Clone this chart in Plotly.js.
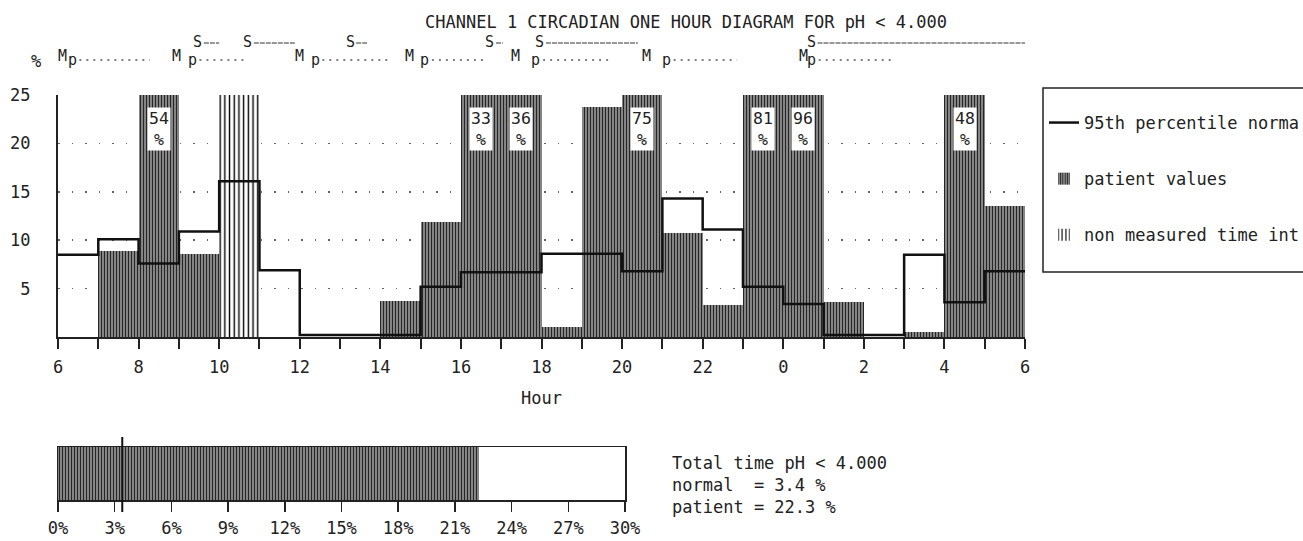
<!DOCTYPE html>
<html>
<head>
<meta charset="utf-8">
<script src="https://cdn.plot.ly/plotly-3.0.1.min.js"></script>
<style>
html,body{margin:0;padding:0;background:#fff;overflow:hidden}
#chart{width:1303px;height:541px}
</style>
</head>
<body>
<div id="chart"></div>
<script>
// ---- data ----
const hourLabels = ['6','7','8','9','10','11','12','13','14','15','16','17','18','19','20','21','22','23','0','1','2','3','4','5'];
const patientPct = [0, 8.9, 54, 8.6, null, 0, 0, 0, 3.7, 11.9, 33, 36, 1.0, 23.8, 75, 10.7, 3.3, 81, 96, 3.6, 0, 0.5, 48, 13.5];
const normal95Pct = [8.5, 10.1, 7.6, 10.9, 16.1, 6.9, 0.2, 0.2, 0.2, 5.2, 6.7, 6.7, 8.6, 8.6, 6.8, 14.3, 11.1, 5.2, 3.4, 0.2, 0.2, 8.5, 3.6, 6.8];
const nonMeasuredHours = ['10'];
const xTickLabels = ['6','8','10','12','14','16','18','20','22','0','2','4','6'];
const yTickValues = [5, 10, 15, 20, 25];
const totalTickValues = [0, 3, 6, 9, 12, 15, 18, 21, 24, 27, 30];
const normalTotalPct = 3.4;
const patientTotalPct = 22.3;
const phThreshold = '4.000';
// event markers (hours on the 6..30 clock scale)
const mealTimes = [6.1, 8.95, 12.0, 14.73, 17.36, 20.6, 24.5];
const pTimes = [6.35, 9.33, 12.38, 15.1, 17.86, 21.1, 24.7];
const mealEnds = [8.28, 10.64, 14.24, 16.55, 19.7, 22.85, 26.72];
const supineTimes = [9.47, 10.71, 13.25, 16.72, 17.96, 24.7];
const supineEnds = [10.0, 11.88, 13.67, 17.04, 20.39, 30];

// ---- styling ----
const FONT = 'DejaVu Sans Mono, Liberation Mono, monospace';
const INK = '#222';
const yMax = 25;
const xStart = 6;
const hatch = {shape:'|', fgcolor:'#262626', bgcolor:'#8e8e8e', size:3, solidity:0.4, fillmode:'replace'};

const centers = hourLabels.map((h, i) => xStart + i + 0.5);
const edges = hourLabels.map((h, i) => xStart + i).concat([xStart + hourLabels.length]);
const stepY = normal95Pct.concat([normal95Pct[normal95Pct.length - 1]]);
const nmIdx = hourLabels.map((h, i) => nonMeasuredHours.includes(h) ? i : -1).filter(i => i >= 0);

const traces = [
  {type:'bar', x:centers, y:patientPct, width:1, name:'patient values',
   marker:{color:'#8e8e8e', line:{width:0}, pattern:hatch},
   legendgroup:'b', legendrank:2},
  {type:'bar', x:nmIdx.map(i => centers[i]), y:nmIdx.map(() => yMax), width:1, name:'non measured time int',
   marker:{color:'#fff', line:{width:0}, pattern:{shape:'|', fgcolor:'#000', bgcolor:'#fff', size:4.7, solidity:0.3, fillmode:'replace'}},
   legendgroup:'c', legendrank:3},
  {type:'scatter', mode:'lines', x:edges, y:stepY, name:'95th percentile norma',
   line:{shape:'hv', color:'#111', width:2.5}, legendgroup:'a', legendrank:1},
  {type:'bar', orientation:'h', x:[patientTotalPct], y:[0], width:1, xaxis:'x2', yaxis:'y2',
   marker:{color:'#8e8e8e', line:{width:0}, pattern:hatch}, showlegend:false}
];

const annotations = [];
const shapes = [];
const txt = (s, x, y, xref, yref, extra) => Object.assign({text:s, x:x, y:y, xref:xref, yref:yref, showarrow:false,
  xanchor:'center', yanchor:'middle', font:{family:FONT, size:17, color:INK}}, extra || {});

// capped-value boxes
patientPct.forEach((v, i) => {
  if (v !== null && v > yMax) {
    annotations.push(txt(v + '<br>%', centers[i], 21.5, 'x', 'y',
      {bgcolor:'#fff', borderpad:1, font:{family:FONT, size:16.5, color:INK}}));
  }
});

// paper y from pixel (margin t=95, b=41, paper height 405)
const py = p => (500 - p) / 405;
const px = p => (p - 58) / 967;
const mk = {family:FONT, size:15, color:INK};

// event marker row
mealTimes.forEach((t, i) => {
  annotations.push(txt('M', t, py(56), 'x', 'paper', {font:mk}));
  annotations.push(txt('p', pTimes[i], py(60), 'x', 'paper', {font:mk}));
  shapes.push({type:'line', xref:'x', yref:'paper', x0:pTimes[i] + 0.18, x1:mealEnds[i], y0:py(60), y1:py(60),
    line:{color:'#555', width:1.3, dash:'2px,5px'}});
});
supineTimes.forEach((t, i) => {
  annotations.push(txt('S', t, py(42), 'x', 'paper', {font:mk}));
  shapes.push({type:'line', xref:'x', yref:'paper', x0:t + 0.15, x1:supineEnds[i], y0:py(43), y1:py(43),
    line:{color:'#333', width:1.2, dash:'5px,1px'}});
});

// y-axis unit
annotations.push(txt('%', px(36), py(61), 'paper', 'paper'));

// totals text
annotations.push(txt('Total time pH &lt; ' + phThreshold + '<br>normal  = ' + normalTotalPct + ' %<br>patient = ' + patientTotalPct + ' %',
  px(670), py(451), 'paper', 'paper', {xanchor:'left', yanchor:'top', align:'left'}));

// normal total marker on the summary bar
shapes.push({type:'line', xref:'x2', yref:'paper', x0:normalTotalPct, x1:normalTotalPct, y0:py(512), y1:py(437),
  line:{color:'#111', width:2}});

// legend frame
shapes.push({type:'rect', xref:'paper', yref:'paper', x0:px(1043), x1:px(1312), y0:py(272), y1:py(88),
  line:{color:INK, width:1.5}, fillcolor:'rgba(0,0,0,0)'});

const layout = {
  width:1303, height:541,
  paper_bgcolor:'#fff', plot_bgcolor:'#fff',
  margin:{l:58, r:278, t:95, b:41, autoexpand:false},
  font:{family:FONT, size:17, color:INK},
  title:{text:'CHANNEL 1 CIRCADIAN ONE HOUR DIAGRAM FOR pH &lt; ' + phThreshold,
    xref:'paper', x:px(686), xanchor:'center', yref:'container', y:1 - 22 / 541, yanchor:'middle',
    font:{family:FONT, size:17, color:INK}},
  showlegend:true,
  legend:{x:px(1044), xanchor:'left', y:py(105), yanchor:'top', borderwidth:0,
    bgcolor:'rgba(0,0,0,0)', font:{family:FONT, size:17, color:INK}, traceorder:'grouped', tracegroupgap:31},
  barmode:'overlay',
  bargap:0,
  xaxis:{domain:[0, 1], anchor:'y', range:[xStart, xStart + hourLabels.length], tickmode:'array',
    tickvals:xTickLabels.map((t, i) => xStart + 2 * i), ticktext:xTickLabels,
    ticks:'outside', ticklen:10, tickwidth:2, tickcolor:INK,
    minor:{tickmode:'linear', tick0:xStart, dtick:1, ticks:'outside', ticklen:10, tickwidth:2, tickcolor:INK, showgrid:false},
    showline:true, linewidth:2, linecolor:INK, showgrid:false, zeroline:false,
    ticklabelstandoff:4, title:{text:'Hour', standoff:16, font:{family:FONT, size:17, color:INK}},
    automargin:false, fixedrange:true},
  yaxis:{domain:[(500 - 337) / 405, 1], anchor:'x', range:[0, yMax], tickmode:'array', tickvals:yTickValues,
    ticks:'', showline:true, linewidth:2, linecolor:INK, showgrid:true, gridcolor:'#666', gridwidth:1.5,
    griddash:'1.5px,12px', zeroline:false, ticklabelstandoff:22, automargin:false, fixedrange:true},
  xaxis2:{domain:[0, (625 - 58) / 967], anchor:'y2', range:[totalTickValues[0], totalTickValues[totalTickValues.length - 1]],
    tickmode:'array', tickvals:totalTickValues, ticktext:totalTickValues.map(v => v + '%'),
    ticks:'outside', ticklen:10, tickwidth:1.5, tickcolor:INK,
    showline:true, mirror:true, linewidth:1.5, linecolor:INK, showgrid:false, zeroline:false, automargin:false,
    ticklabelstandoff:2, fixedrange:true},
  yaxis2:{domain:[0, (500 - 447) / 405], anchor:'x2', range:[-0.5, 0.5], showticklabels:false, ticks:'',
    showline:true, mirror:true, linewidth:1.5, linecolor:INK, showgrid:false, zeroline:false, automargin:false, fixedrange:true},
  annotations:annotations,
  shapes:shapes
};

Plotly.newPlot('chart', traces, layout, {displayModeBar:false, staticPlot:true});
</script>
</body>
</html>
